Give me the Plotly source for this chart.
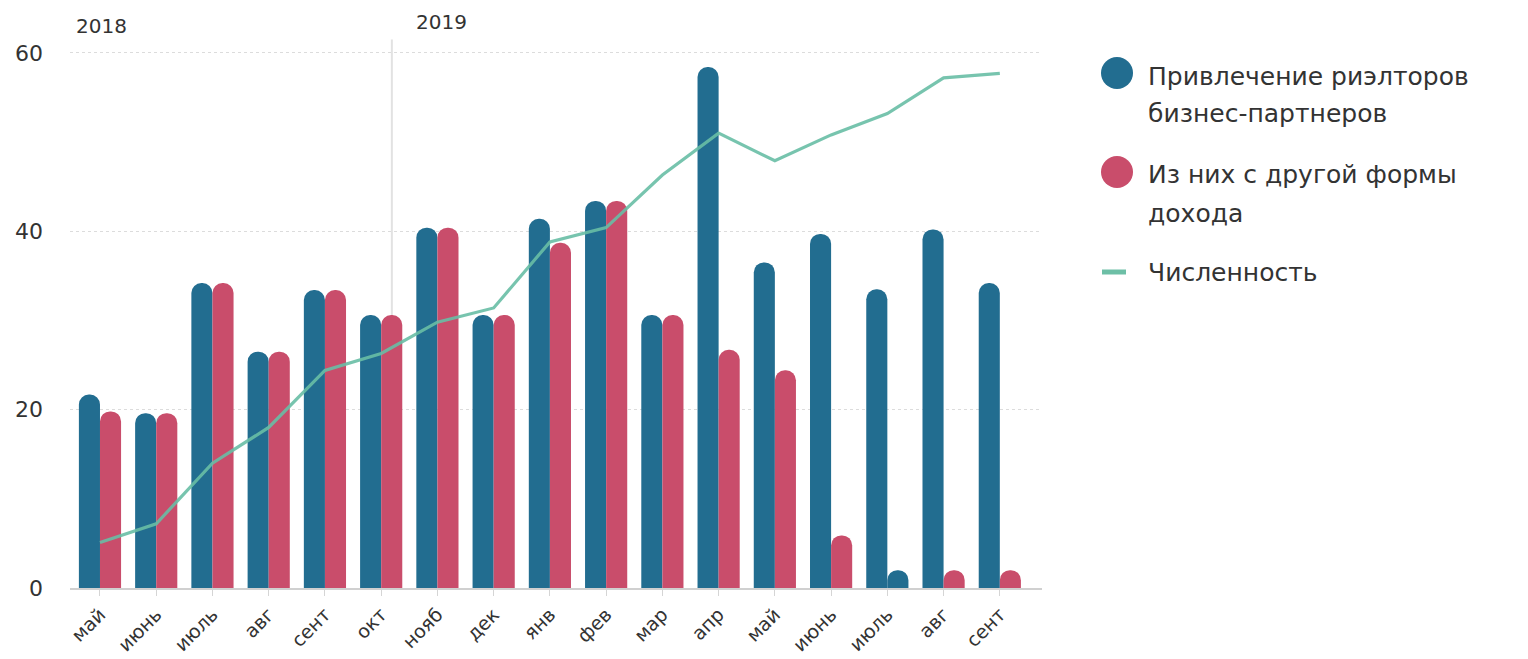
import plotly.graph_objects as go

# Monthly data, May 2018 – September 2019
months = ["май", "июнь", "июль", "авг", "сент", "окт", "нояб", "дек",
          "янв", "фев", "мар", "апр", "май", "июнь", "июль", "авг", "сент"]
recruited = [21.7, 19.6, 34.2, 26.5, 33.4, 30.6, 40.4, 30.6,
             41.4, 43.4, 30.6, 58.4, 36.5, 39.7, 33.5, 40.2, 34.2]
other_income = [19.8, 19.6, 34.2, 26.5, 33.4, 30.6, 40.4, 30.6,
                38.7, 43.4, 30.6, 26.7, 24.4, 5.9, 2.0, 2.0, 2.0]
headcount = [5.1, 7.2, 14.0, 18.0, 24.4, 26.3, 29.8, 31.4,
             38.8, 40.4, 46.3, 51.0, 47.9, 50.8, 53.2, 57.2, 57.7]
y_ticks = [0, 20, 40, 60]
years = ["2018", "2019"]

series_names = ["Привлечение риэлторов<br>бизнес-партнеров",
                "Из них с другой формы<br>дохода",
                "Численность"]

BLUE = "#226d90"
PINK = "#c94d6b"
TEAL = "rgba(104,190,165,0.9)"
TEXT = "#333333"
FONT = "DejaVu Sans"

x = list(range(len(months)))
# one bar of the second series is shown in the first series' colour
pink_colors = [PINK] * len(months)
pink_colors[14] = BLUE

fig = go.Figure()
fig.add_trace(go.Bar(x=x, y=recruited, name=series_names[0],
                     marker=dict(color=BLUE, cornerradius="50%", line_width=0),
                     showlegend=False))
fig.add_trace(go.Bar(x=x, y=other_income, name=series_names[1],
                     marker=dict(color=pink_colors, cornerradius="50%", line_width=0),
                     showlegend=False))
fig.add_trace(go.Scatter(x=x, y=headcount, name=series_names[2], mode="lines",
                         line=dict(color=TEAL, width=3.2), showlegend=False))

# plot area geometry (px) for placing the hand-built legend
L, R, T, B = 70, 486, 35, 71
W, H = 1528, 659
pw, ph = W - L - R, H - T - B


def px_x(px):
    return (px - L) / pw


def px_y(py):
    return (H - B - py) / ph


shapes = [
    # year separator
    dict(type="line", xref="x", yref="y", x0=5.19, x1=5.19, y0=0, y1=61.5,
         line=dict(color="#e2e2e2", width=2), layer="below"),
    # legend markers
    dict(type="circle", xref="paper", yref="paper", xsizemode="pixel", ysizemode="pixel",
         xanchor=px_x(1117), yanchor=px_y(73), x0=-16, x1=16, y0=-16, y1=16,
         fillcolor=BLUE, line_width=0),
    dict(type="circle", xref="paper", yref="paper", xsizemode="pixel", ysizemode="pixel",
         xanchor=px_x(1117), yanchor=px_y(172), x0=-16, x1=16, y0=-16, y1=16,
         fillcolor=PINK, line_width=0),
    dict(type="line", xref="paper", yref="paper",
         x0=px_x(1102), x1=px_x(1126), y0=px_y(272), y1=px_y(272),
         line=dict(color="#6dbfa6", width=5)),
]

annotations = [
    dict(text=years[0], xref="paper", yref="paper", x=px_x(74), y=px_y(26),
         xanchor="left", yanchor="middle", showarrow=False,
         font=dict(size=20, color=TEXT, family=FONT)),
    dict(text=years[1], xref="paper", yref="paper", x=px_x(414), y=px_y(22),
         xanchor="left", yanchor="middle", showarrow=False,
         font=dict(size=20, color=TEXT, family=FONT)),
]
legend_lines = [
    ("Привлечение риэлторов", 76), ("бизнес-партнеров", 113),
    ("Из них с другой формы", 174), ("дохода", 213),
    ("Численность", 272),
]
for txt, py in legend_lines:
    annotations.append(dict(text=txt, xref="paper", yref="paper", x=px_x(1146), y=px_y(py),
                            xanchor="left", yanchor="middle", showarrow=False,
                            font=dict(size=25, color=TEXT, family=FONT)))

fig.update_layout(
    width=W, height=H,
    margin=dict(l=L, r=R, t=T, b=B, autoexpand=False),
    paper_bgcolor="white", plot_bgcolor="white",
    barmode="group", bargap=0.25, bargroupgap=0,
    font=dict(family=FONT, color=TEXT),
    shapes=shapes, annotations=annotations,
    xaxis=dict(range=[-0.533, 16.75], tickmode="array", tickvals=x, ticktext=months,
               tickangle=-45, tickfont=dict(size=19, color=TEXT), automargin=False,
               ticks="outside", ticklen=6, tickcolor="#d5d5d5", tickwidth=1,
               showgrid=False, zeroline=False,
               showline=True, linecolor="#d0d0d0", linewidth=2),
    yaxis=dict(range=[0, 62], tickvals=y_ticks, tickfont=dict(size=22, color=TEXT),
               automargin=False,
               showgrid=True, gridcolor="#dcdcdc", griddash="dot", gridwidth=1,
               zeroline=False, showline=False, ticks="", ticklabelstandoff=26),
)

fig.write_html("out.html")
